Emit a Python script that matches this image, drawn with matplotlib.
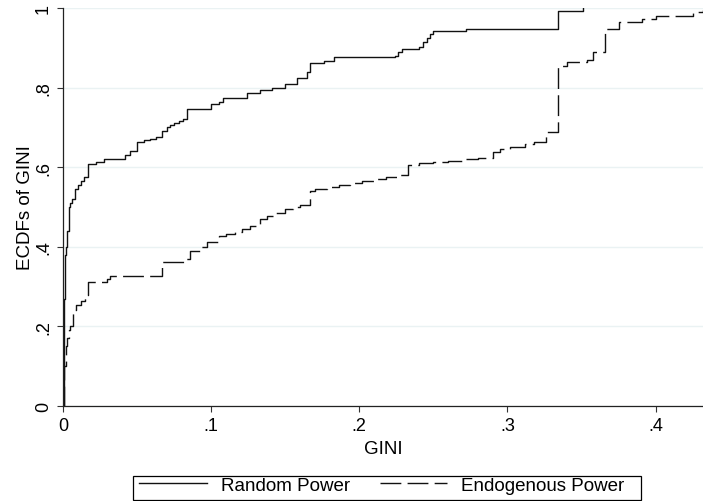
import matplotlib
matplotlib.use("Agg")
import matplotlib.pyplot as plt
from matplotlib.lines import Line2D
from matplotlib.patches import Rectangle

plt.rcParams['font.family'] = ['Liberation Sans', 'DejaVu Sans']

# ECDF of GINI, random power (step points)
random_gini = [0, 0.0005, 0.001, 0.0015, 0.002, 0.003, 0.004, 0.005, 0.006, 0.008,
               0.010, 0.012, 0.014, 0.017, 0.022, 0.028, 0.042, 0.045, 0.050, 0.055,
               0.059, 0.063, 0.067, 0.070, 0.072, 0.075, 0.078, 0.081, 0.084, 0.100,
               0.105, 0.108, 0.124, 0.133, 0.141, 0.150, 0.158, 0.165, 0.167, 0.176,
               0.183, 0.224, 0.226, 0.229, 0.240, 0.243, 0.246, 0.248, 0.250, 0.272,
               0.334, 0.351]
random_ecdf = [0, 0.1, 0.27, 0.38, 0.40, 0.44, 0.50, 0.51, 0.52, 0.545,
               0.555, 0.565, 0.575, 0.607, 0.612, 0.62, 0.63, 0.64, 0.663, 0.668,
               0.672, 0.675, 0.69, 0.70, 0.705, 0.71, 0.715, 0.72, 0.745, 0.758,
               0.765, 0.773, 0.787, 0.795, 0.80, 0.81, 0.825, 0.84, 0.862, 0.868,
               0.876, 0.88, 0.89, 0.897, 0.903, 0.915, 0.925, 0.935, 0.942, 0.948,
               0.993, 1.0]

# ECDF of GINI, endogenous power
endo_gini = [0, 0.0005, 0.001, 0.002, 0.003, 0.004, 0.005, 0.007, 0.009, 0.012,
             0.015, 0.017, 0.030, 0.032, 0.067, 0.082, 0.086, 0.093, 0.097, 0.105,
             0.110, 0.116, 0.121, 0.126, 0.133, 0.138, 0.143, 0.150, 0.155, 0.160,
             0.167, 0.170, 0.178, 0.186, 0.194, 0.202, 0.210, 0.218, 0.226, 0.233,
             0.240, 0.250, 0.260, 0.270, 0.280, 0.290, 0.295, 0.302, 0.312, 0.318,
             0.326, 0.334, 0.340, 0.354, 0.358, 0.366, 0.375, 0.391, 0.400, 0.425,
             0.432]
endo_ecdf = [0, 0.05, 0.1, 0.15, 0.17, 0.19, 0.2, 0.24, 0.255, 0.265,
             0.28, 0.312, 0.319, 0.326, 0.362, 0.37, 0.39, 0.40, 0.412, 0.427,
             0.432, 0.437, 0.445, 0.452, 0.47, 0.478, 0.486, 0.495, 0.50, 0.505,
             0.54, 0.545, 0.55, 0.555, 0.56, 0.565, 0.57, 0.575, 0.58, 0.605,
             0.61, 0.613, 0.616, 0.62, 0.623, 0.637, 0.645, 0.65, 0.658, 0.664,
             0.688, 0.855, 0.865, 0.87, 0.889, 0.947, 0.964, 0.972, 0.98, 0.99,
             0.995]

xticks = [0, 0.1, 0.2, 0.3, 0.4]
xticklabels = ['0', '.1', '.2', '.3', '.4']
yticks = [0, 0.2, 0.4, 0.6, 0.8, 1.0]
yticklabels = ['0', '.2', '.4', '.6', '.8', '1']

fig = plt.figure(figsize=(7.03, 5.02), dpi=100)
ax = fig.add_axes([63/703, 95/502, 640/703, 398/502])

ax.plot(random_gini, random_ecdf, drawstyle='steps-post', color='#111111', lw=1.0,
        label='Random Power')
ax.plot(endo_gini, endo_ecdf, drawstyle='steps-post', color='#111111', lw=1.0,
        dashes=(15, 4.5), label='Endogenous Power')

ax.set_xlim(0, 0.432)
ax.set_ylim(0, 1)
ax.set_xticks(xticks)
ax.set_xticklabels(xticklabels)
ax.set_yticks(yticks)
ax.set_yticklabels(yticklabels, rotation=90, va='center')
ax.tick_params(labelsize=13, length=4.5, width=0.8, color='#333333', pad=3.5)
ax.yaxis.grid(True, color='#eaf2f3', lw=1.0)
ax.set_axisbelow(True)
for s in ['top', 'right']:
    ax.spines[s].set_visible(False)
for s in ['left', 'bottom']:
    ax.spines[s].set_linewidth(0.9)
    ax.spines[s].set_color('#222222')

ax.set_xlabel('GINI', fontsize=13.5, labelpad=4)
ax.set_ylabel('ECDFs of GINI', fontsize=13.5, labelpad=0.5)

# legend frame drawn separately so the box padding matches the original
frame = Rectangle((133/703, 1/502), 508/703, 24/502, transform=fig.transFigure,
                  fill=False, edgecolor='black', lw=0.9)
fig.patches.append(frame)
handles = [Line2D([], [], color='#111111', lw=1.0),
           Line2D([], [], color='#111111', lw=1.0, dashes=(15, 4.5))]
leg = fig.legend(handles, ['Random Power', 'Endogenous Power'], ncol=2,
                 loc='center left', bbox_to_anchor=(139/703, 16/502),
                 fontsize=13.5, frameon=False, borderpad=0, borderaxespad=0,
                 handlelength=3.6, handletextpad=0.75, columnspacing=1.6)

fig.savefig('out.png', dpi=100)
